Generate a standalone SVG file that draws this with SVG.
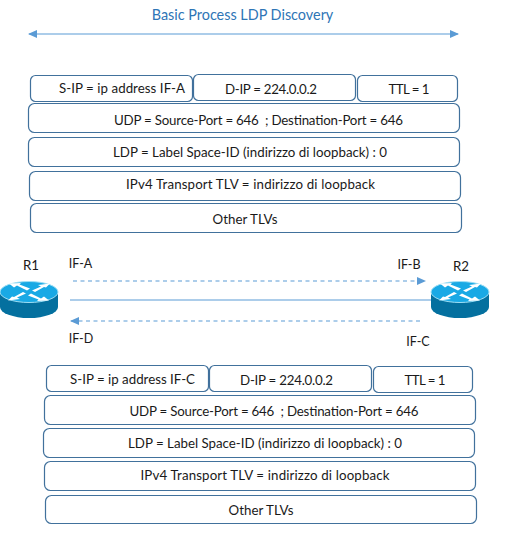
<svg xmlns="http://www.w3.org/2000/svg" width="528" height="540" viewBox="0 0 528 540">
<style>
text{font-family:"Lato","Carlito","Open Sans",sans-serif;font-size:13.300px;fill:#1a1a1a;text-anchor:middle}
.b{fill:#fff;stroke:#41719c;stroke-width:1.2}
.l{fill:none;stroke:#5b9bd5;stroke-width:1.1}
.d{stroke-dasharray:4 3.500}
.t{font-size:14.400px;fill:#2e75b6}
.s{font-size:12.500px}
.top{fill:#19a9e5;stroke:#9fdff5;stroke-width:1}
.side{fill:#04709f}
.arr{fill:#fff}
</style>
<defs>
<marker id="ah" markerWidth="9" markerHeight="8" refX="8" refY="4" orient="auto-start-reverse" markerUnits="userSpaceOnUse"><path d="M0 0L9 4L0 8Z" fill="#5b9bd5"/></marker>
<g id="router">
<path class="side" d="M-29 0V15A29 11 0 0 0 29 15V0Z"/>
<ellipse class="top" cx="0" cy="0" rx="29" ry="10.5"/>
<path class="arr" d="M-2 -1.500L-12 -6.500L-15 -4.500L-20 -8.500L-8 -9L-9.500 -7.500L1 -3.500ZM2 1.500L12 6.500L15 4.500L20 8.500L8 9L9.500 7.500L-1 3.500ZM3 -1.500L12 -5.500L9 -7L21 -8.500L17 -4.500L15 -5L6 0ZM-3 1.500L-12 5.500L-9 7L-21 8.500L-17 4.500L-15 5L-6 0Z"/>
</g>
</defs>
<g id="title"><text class="t" x="242.500" y="20">Basic Process LDP Discovery</text></g>
<g id="connectors">
<line class="l" x1="29" y1="34" x2="458" y2="34" marker-start="url(#ah)" marker-end="url(#ah)"/>
<line class="l d" x1="73" y1="281" x2="425" y2="281" marker-end="url(#ah)"/>
<line class="l" x1="70" y1="300" x2="431" y2="300"/>
<line class="l d" x1="71" y1="321" x2="422" y2="321" marker-start="url(#ah)"/>
</g>
<g id="top-sip"><rect class="b" x="30.500" y="75.500" width="162" height="26" rx="5"/><text x="122" y="93" textLength="126">S-IP = ip address IF-A</text></g>
<g id="top-dip"><rect class="b" x="193.500" y="74.500" width="162" height="26" rx="5"/><text x="271" y="94" textLength="92">D-IP = 224.0.0.2</text></g>
<g id="top-ttl"><rect class="b" x="357.500" y="75.500" width="100" height="26" rx="5"/><text x="409" y="94" textLength="41">TTL = 1</text></g>
<g id="top-udp"><rect class="b" x="28.500" y="103.500" width="431" height="29" rx="6"/><text x="258.500" y="125" textLength="289" xml:space="preserve">UDP = Source-Port = 646  ; Destination-Port = 646</text></g>
<g id="top-ldp"><rect class="b" x="28.500" y="137.500" width="431" height="29" rx="6"/><text x="250" y="157" textLength="274">LDP = Label Space-ID (indirizzo di loopback) : 0</text></g>
<g id="top-ipv4"><rect class="b" x="29.500" y="171.500" width="431" height="29" rx="6"/><text x="250.500" y="189" textLength="249">IPv4 Transport TLV = indirizzo di loopback</text></g>
<g id="top-other"><rect class="b" x="30.500" y="203.500" width="431" height="29" rx="6"/><text x="245" y="224" textLength="65">Other TLVs</text></g>
<g id="R1"><use href="#router" x="29" y="292"/><text x="31" y="270">R1</text></g>
<g id="R2"><use href="#router" x="460" y="292"/><text x="461" y="271">R2</text></g>
<g id="labels">
<text class="s" x="80.500" y="268">IF-A</text>
<text class="s" x="409" y="269">IF-B</text>
<text class="s" x="418" y="346">IF-C</text>
<text class="s" x="81" y="343">IF-D</text>
</g>
<g id="bottom-sip"><rect class="b" x="46.500" y="365.500" width="162" height="26" rx="5"/><text x="132.500" y="384" textLength="125">S-IP = ip address IF-C</text></g>
<g id="bottom-dip"><rect class="b" x="209.500" y="365.500" width="162" height="26" rx="5"/><text x="286.500" y="385" textLength="93">D-IP = 224.0.0.2</text></g>
<g id="bottom-ttl"><rect class="b" x="373.500" y="366.500" width="99" height="26" rx="5"/><text x="425" y="385" textLength="41">TTL = 1</text></g>
<g id="bottom-udp"><rect class="b" x="44.500" y="395.500" width="431" height="29" rx="6"/><text x="274" y="416" textLength="289" xml:space="preserve">UDP = Source-Port = 646  ; Destination-Port = 646</text></g>
<g id="bottom-ldp"><rect class="b" x="43.500" y="428.500" width="431" height="29" rx="6"/><text x="265" y="448" textLength="274">LDP = Label Space-ID (indirizzo di loopback) : 0</text></g>
<g id="bottom-ipv4"><rect class="b" x="44.500" y="461.500" width="431" height="29" rx="6"/><text x="265" y="480" textLength="249">IPv4 Transport TLV = indirizzo di loopback</text></g>
<g id="bottom-other"><rect class="b" x="45.500" y="495.500" width="431" height="28" rx="6"/><text x="261" y="515" textLength="65">Other TLVs</text></g>
</svg>
